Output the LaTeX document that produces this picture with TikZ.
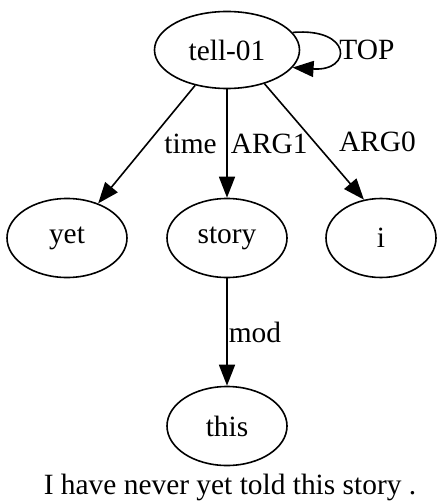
\documentclass[tikz,border=0pt]{standalone}
\usepackage{fontspec}
\setmainfont{Liberation Serif}
\usetikzlibrary{arrows.meta, shapes.geometric}

\begin{document}
\begin{tikzpicture}[
    x=0.5pt, y=-0.5pt,
    concept/.style={draw, ellipse, line width=0.8pt, inner sep=0pt, minimum width=60pt, minimum height=39.5pt, font=\fontsize{14.7}{17}\selectfont},
    rel/.style={-{Triangle[length=10.5pt, width=8pt]}, line width=0.8pt},
    lbl/.style={font=\fontsize{14.7}{17}\selectfont, inner sep=0pt, anchor=west}
]
    \useasboundingbox (0,0) rectangle (438,502);

    \node[concept, minimum width=72.5pt, minimum height=38.5pt] (tell) at (227,50) {tell-01};
    \node[concept] (yet) at (67,238) {yet};
    \node[concept] (story) at (227,238) {story};
    \node[concept, minimum width=55pt] (i) at (381,238) {i};
    \node[concept] (this) at (227,426) {this};
    \node[font=\fontsize{14.7}{17}\selectfont] (sentence) at (230,487) {I have never yet told this story .};

    \draw[rel] (tell.15) .. controls +(60,-5) and +(60,4) .. (tell.-15) node[lbl, pos=0.5, xshift=0.5pt] {TOP};
    \draw[rel] (tell.-132) -- (yet.48) node[lbl, midway, xshift=8.5pt] {time};
    \draw[rel] (tell) -- (story) node[lbl, midway, xshift=1.5pt] {ARG1};
    \draw[rel] (tell.-42) -- (i.114) node[lbl, midway, xshift=12pt] {ARG0};
    \draw[rel] (story) -- (this) node[lbl, midway, xshift=0.5pt] {mod};
\end{tikzpicture}
\end{document}
